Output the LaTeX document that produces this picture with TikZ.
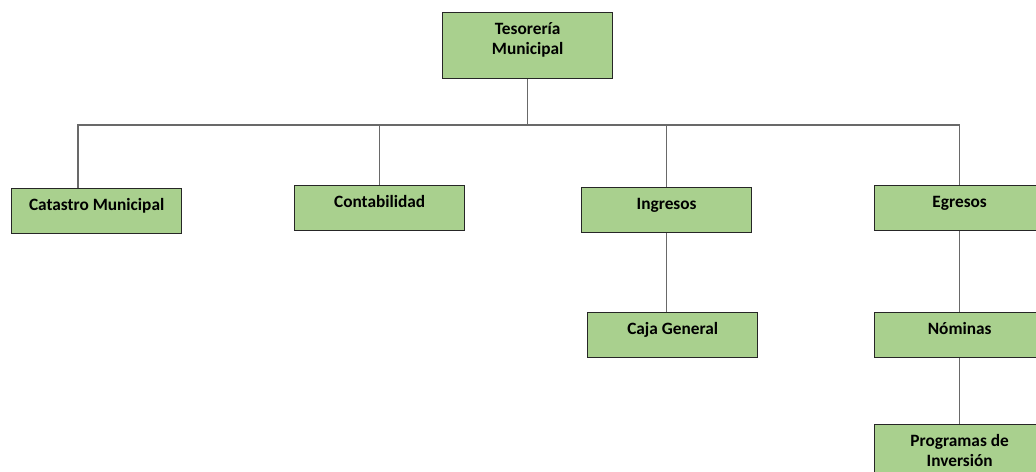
\documentclass[tikz,border=0pt]{standalone}
\usepackage{fontspec}
\setmainfont{Carlito}
\definecolor{verde}{RGB}{169,208,142}
\definecolor{borde}{RGB}{38,38,38}
\definecolor{linea}{RGB}{105,105,105}
\tikzset{
	area/.style={draw=borde,fill=verde,line width=0.9pt,anchor=north west,minimum width=4.25cm,inner xsep=2pt,inner ysep=0pt,text height=0.55cm,text depth=0.575cm,align=center,font=\fontsize{12.3}{14.2}\selectfont\bfseries},
	doble/.style={text height=1.05cm,text depth=0.6cm},
	conector/.style={draw=linea,line width=0.9pt}
}
\begin{document}
\begin{tikzpicture}[x=0.025cm,y=-0.025cm]
	\useasboundingbox (0,0) rectangle (1036,472);
	\node[area,doble] at (442,12)(tes){Tesorería\\Municipal};
	
	\node[area] at (11,188)(cat){Catastro Municipal};
	\node[area] at (294,185)(con){Contabilidad};
	\node[area] at (581,187)(ing){Ingresos};
	\node[area] at (874,185)(egr){Egresos};
	
	\node[area] at (587,312)(caja){Caja General};
	\node[area] at (874,312)(nom){Nóminas};
	\node[area,doble] at (874,424)(prog){Programas de\\Inversión};
	
	\coordinate (bl) at (78,125);
	\coordinate (br) at (egr.north |- bl);
	\draw[conector](bl |- cat.north) -- (bl) -- (br) -- (egr.north);
	\path[conector](tes.south)edge(tes.south |- bl)(con.north |- bl)edge(con.north)(ing.north |- bl)edge(ing.north);
	\path[conector](ing.south)edge(ing.south |- caja.north)(egr.south)edge(nom.north)(nom.south)edge(prog.north);
\end{tikzpicture}
\end{document}
